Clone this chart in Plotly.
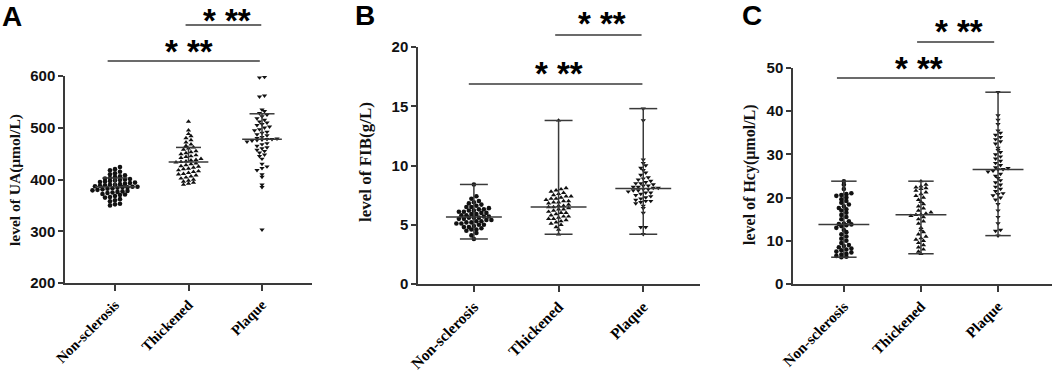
import numpy as np
import plotly.graph_objects as go

W, H = 1052, 374

categories = ["Non-sclerosis", "Thickened", "Plaque"]

# Panel A: UA (umol/L)
ua_non = [350, 352, 353, 358, 360, 362, 365, 366, 368, 370, 371, 372, 374, 375, 376, 377, 378, 379,
          380, 381, 382, 383, 384, 385, 385, 386, 386, 387, 388, 389, 390, 390, 391, 392, 393, 394,
          395, 396, 397, 398, 399, 400, 401, 402, 403, 405, 406, 408, 410, 412, 415, 418, 420, 424]
ua_thick = [390, 392, 394, 396, 398, 400, 402, 404, 406, 408, 410, 411, 413, 415, 416, 418, 420, 421,
            423, 425, 426, 428, 430, 431, 433, 434, 435, 437, 438, 440, 442, 444, 445, 447, 449, 451,
            453, 455, 458, 460, 462, 465, 468, 472, 476, 480, 484, 488, 495, 512]
ua_plaque = [598, 597, 562, 560, 535, 532, 528, 525, 522, 518, 515, 512, 510, 507, 505, 502, 500, 497,
             495, 492, 490, 487, 485, 482, 480, 479, 478, 478, 477, 476, 475, 473, 470, 468, 465, 462,
             460, 457, 455, 452, 448, 445, 440, 430, 425, 422, 418, 410, 405, 390, 385, 303]
ua_center = [386, 434, 478]
ua_upper = [403, 462, 527]

# Panel B: FIB (g/L)
fib_non = [3.8, 4.1, 4.3, 4.5, 4.6, 4.6, 4.7, 4.8, 4.8, 4.9, 5.0, 5.0, 5.1, 5.1, 5.2, 5.2, 5.3, 5.3,
           5.4, 5.4, 5.5, 5.5, 5.6, 5.6, 5.6, 5.7, 5.7, 5.8, 5.8, 5.9, 5.9, 6.0, 6.0, 6.1, 6.1, 6.2,
           6.2, 6.3, 6.3, 6.4, 6.5, 6.5, 6.6, 6.7, 6.8, 6.9, 7.0, 7.2, 7.4, 8.4]
fib_thick = [4.2, 4.6, 4.8, 5.0, 5.1, 5.2, 5.3, 5.4, 5.5, 5.5, 5.6, 5.7, 5.7, 5.8, 5.9, 6.0, 6.0, 6.1,
             6.2, 6.3, 6.3, 6.4, 6.5, 6.5, 6.6, 6.6, 6.7, 6.8, 6.9, 6.9, 7.0, 7.0, 7.1, 7.2, 7.2, 7.3,
             7.4, 7.4, 7.5, 7.6, 7.7, 7.8, 7.9, 8.0, 8.1, 13.8]
fib_plaque = [4.2, 4.8, 4.8, 6.0, 6.4, 6.6, 6.8, 6.9, 7.0, 7.0, 7.1, 7.2, 7.3, 7.4, 7.5, 7.6, 7.7, 7.7,
              7.8, 7.9, 7.9, 8.0, 8.0, 8.1, 8.1, 8.2, 8.2, 8.3, 8.3, 8.4, 8.5, 8.5, 8.6, 8.7, 8.8, 8.9,
              9.0, 9.2, 9.4, 9.6, 9.8, 10.0, 10.2, 10.5, 13.8, 14.8]

# Panel C: Hcy (umol/L)
hcy_non = [6.2, 6.3, 6.5, 6.8, 7.0, 7.3, 7.5, 7.8, 8.0, 8.2, 8.5, 8.8, 9.0, 9.5, 10.0, 10.5, 11.0, 11.5,
           12.0, 12.5, 13.0, 13.4, 13.6, 13.8, 13.9, 14.0, 14.5, 15.0, 15.5, 16.0, 16.5, 17.0, 17.3,
           17.6, 18.0, 18.4, 18.8, 19.2, 19.6, 20.0, 20.4, 20.6, 20.8, 21.0, 22.0, 23.0, 23.8]
hcy_thick = [7.0, 7.5, 8.0, 8.5, 9.0, 9.5, 10.0, 10.3, 10.6, 11.0, 11.5, 12.0, 12.5, 13.0, 14.0, 14.5,
             15.0, 15.5, 15.8, 16.0, 16.1, 16.3, 16.6, 17.0, 17.5, 18.0, 18.5, 19.0, 19.5, 20.0, 20.4,
             20.8, 21.2, 21.6, 22.0, 22.2, 22.4, 22.6, 23.0, 23.8]
hcy_plaque = [11.2, 12.3, 12.5, 14.0, 15.5, 17.0, 18.5, 19.5, 20.0, 20.5, 20.8, 21.0, 21.5, 22.0, 22.5,
              23.0, 23.5, 24.0, 24.5, 25.0, 25.5, 26.0, 26.2, 26.5, 26.6, 26.8, 27.0, 27.5, 28.0, 28.5,
              29.0, 29.5, 30.0, 30.5, 31.0, 31.5, 32.5, 33.0, 33.5, 34.0, 34.5, 35.0, 35.5, 37.0, 38.0,
              39.0, 44.4]

symbols = ["circle", "triangle-up", "triangle-down"]
DOT = "#111111"
LINE = "#3a3a3a"
SERIF = "Liberation Serif"
SANS = "Liberation Sans"
STAR_SIZE = 33

panels = [
    dict(groups=[ua_non, ua_thick, ua_plaque], xdom=[65 / W, 312 / W], ydom=[91 / H, 298 / H],
         xr=[-0.68, 2.68], yr=[200, 600], dtick=100, title="level of UA(μmol/L)", tsize=15.5,
         tx=15, ty=180, letter="A", lx=12, ly=17, kind="sd", csize=14.5,
         sig=[(0.96, 1.99, 25, 1.52, 9), (-0.1, 1.97, 61, 1.0, 43)]),
    dict(groups=[fib_non, fib_thick, fib_plaque], xdom=[418 / W, 700 / W], ydom=[90 / H, 327 / H],
         xr=[-0.66, 2.67], yr=[0, 20], dtick=5, title="level of FIB(g/L)", tsize=17,
         tx=366, ty=162, letter="B", lx=365, ly=16, kind="range", csize=15.5,
         sig=[(0.96, 1.98, 35, 1.51, 15), (-0.06, 1.99, 84, 1.01, 65)]),
    dict(groups=[hcy_non, hcy_thick, hcy_plaque], xdom=[793 / W, 1.0], ydom=[90 / H, 306 / H],
         xr=[-0.66, 2.70], yr=[0, 50], dtick=10, title="level of Hcy(μmol/L)", tsize=16,
         tx=750, ty=175, letter="C", lx=752, ly=16, kind="range", csize=15,
         sig=[(0.95, 1.95, 42, 1.49, 23), (-0.09, 1.96, 78, 0.97, 60)]),
]


def swarm(vals, px_per_unit, px_per_cat, bin_px=4.0, step_px=5.0):
    vals = np.asarray(vals, float)
    order = np.argsort(vals, kind="stable")
    bins = {}
    for i in order:
        b = int(np.floor(vals[i] * px_per_unit / bin_px))
        bins.setdefault(b, []).append(i)
    offs = np.zeros(len(vals))
    for idx in bins.values():
        n = len(idx)
        for k, i in enumerate(idx):
            offs[i] = (k - (n - 1) / 2) * step_px / px_per_cat
    return offs


fig = go.Figure()
layout = dict(width=W, height=H, margin=dict(l=0, r=0, t=0, b=0, pad=0), plot_bgcolor="white",
              paper_bgcolor="white", showlegend=False, template="none")
shapes = []
annotations = []

for p_i, p in enumerate(panels):
    n = "" if p_i == 0 else str(p_i + 1)
    xa, ya = "x" + n, "y" + n
    px_per_unit = (p["ydom"][1] - p["ydom"][0]) * H / (p["yr"][1] - p["yr"][0])
    px_per_cat = (p["xdom"][1] - p["xdom"][0]) * W / (p["xr"][1] - p["xr"][0])

    for g_i, vals in enumerate(p["groups"]):
        offs = swarm(vals, px_per_unit, px_per_cat)
        fig.add_trace(go.Scatter(
            x=g_i + offs, y=vals, mode="markers", xaxis=xa, yaxis=ya, cliponaxis=False,
            marker=dict(symbol=symbols[g_i], size=4.6, color=DOT, line=dict(width=0)),
            hoverinfo="y"))

    # summary lines
    lx, ly = [], []
    for g_i, vals in enumerate(p["groups"]):
        if p["kind"] == "sd":
            c, up = ua_center[g_i], ua_upper[g_i]
            lx += [g_i - 0.27, g_i + 0.27, None, g_i, g_i, None, g_i - 0.17, g_i + 0.17, None]
            ly += [c, c, None, c, up, None, up, up, None]
        else:
            med, lo, hi = float(np.median(vals)), min(vals), max(vals)
            lx += [g_i - 0.33, g_i + 0.33, None, g_i, g_i, None,
                   g_i - 0.165, g_i + 0.165, None, g_i - 0.165, g_i + 0.165, None]
            ly += [med, med, None, lo, hi, None, hi, hi, None, lo, lo, None]
    fig.add_trace(go.Scatter(x=lx, y=ly, mode="lines", xaxis=xa, yaxis=ya, cliponaxis=False,
                             line=dict(color=LINE, width=1.5), hoverinfo="skip"))

    layout["xaxis" + n] = dict(
        domain=p["xdom"], range=p["xr"], anchor=ya, tickmode="array", tickvals=[0, 1, 2],
        ticktext=categories, tickangle=-45, ticks="outside", ticklen=6, tickwidth=1.5,
        tickcolor=LINE, showline=True, linecolor=LINE, linewidth=1.5, showgrid=False,
        zeroline=False, automargin=False,
        tickfont=dict(family=SERIF, size=p["csize"], color="#000", weight="bold"))
    layout["yaxis" + n] = dict(
        domain=p["ydom"], range=p["yr"], anchor=xa, tick0=p["yr"][0], dtick=p["dtick"],
        ticks="outside", ticklen=5, tickwidth=1.5, tickcolor=LINE, showline=True,
        linecolor=LINE, linewidth=1.5, showgrid=False, zeroline=False, automargin=False,
        tickfont=dict(family=SANS, size=15, color="#111", weight="bold"))

    annotations.append(dict(text=p["title"], x=p["tx"] / W, y=1 - p["ty"] / H, xref="paper",
                            yref="paper", textangle=-90, showarrow=False, xanchor="center",
                            yanchor="middle",
                            font=dict(family=SERIF, size=p["tsize"], color="#111", weight="bold")))
    annotations.append(dict(text=p["letter"], x=p["lx"] / W, y=1 - p["ly"] / H, xref="paper",
                            yref="paper", showarrow=False, xanchor="center", yanchor="middle",
                            font=dict(family=SANS, size=28, color="#000", weight="bold")))
    for (x0, x1, yline, sx, sy) in p["sig"]:
        shapes.append(dict(type="line", xref=xa, yref="paper", x0=x0, x1=x1,
                           y0=1 - yline / H, y1=1 - yline / H,
                           line=dict(color=LINE, width=1.5)))
        top = max(sy - 0.355 * STAR_SIZE, 0.3)
        annotations.append(dict(text="* **", x=sx, y=1 - top / H, xref=xa, yref="paper",
                                showarrow=False, xanchor="center", yanchor="top",
                                font=dict(family=SANS, size=STAR_SIZE, color="#000",
                                          weight="bold")))

layout["shapes"] = shapes
layout["annotations"] = annotations
fig.update_layout(**layout)
fig.write_html("out.html", config={"displayModeBar": False},
               post_script="document.body.style.margin='0px';")
